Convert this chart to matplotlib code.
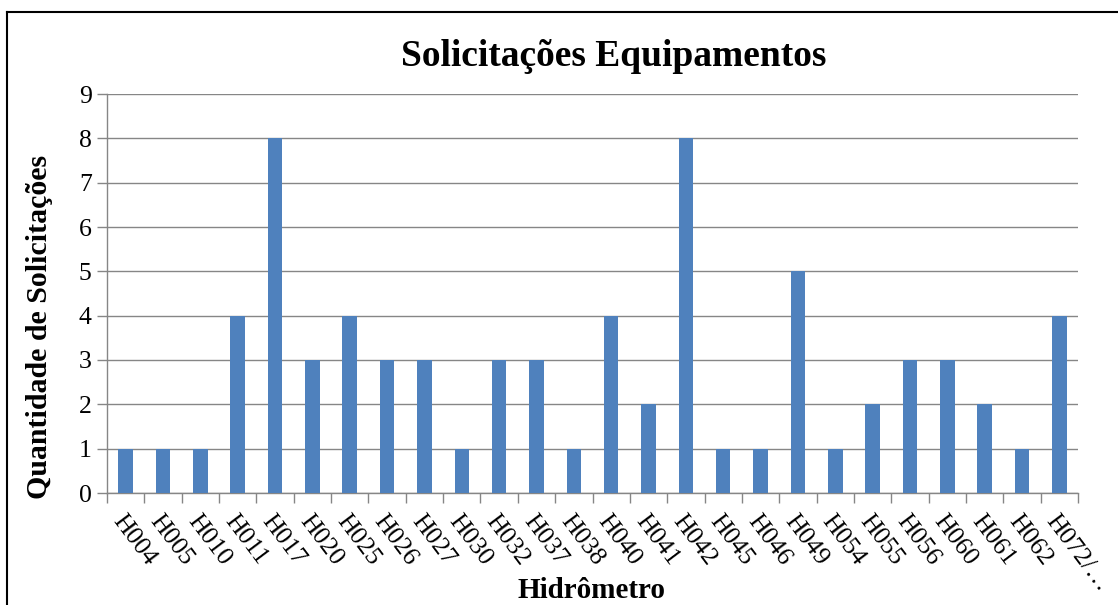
import matplotlib
matplotlib.use("Agg")
import matplotlib.pyplot as plt
from matplotlib.lines import Line2D
import numpy as np

categories = ["H004", "H005", "H010", "H011", "H017", "H020", "H025", "H026", "H027",
              "H030", "H032", "H037", "H038", "H040", "H041", "H042", "H045", "H046",
              "H049", "H054", "H055", "H056", "H060", "H061", "H062", "H072/…"]
values = [1, 1, 1, 4, 8, 3, 4, 3, 3, 1, 3, 3, 1, 4, 2, 8, 1, 1, 5, 1, 2, 3, 3, 2, 1, 4]
yticks = list(range(0, 10))

plt.rcParams['font.family'] = ['Liberation Serif', 'DejaVu Serif']

W, H = 1118, 605
fig = plt.figure(figsize=(W / 100, H / 100), dpi=100)
ax = fig.add_axes([107 / W, 1 - 493 / H, (1078 - 107) / W, (493 - 94) / H])

x = np.arange(len(categories))
ax.bar(x, values, width=0.39, color="#4F81BD", zorder=3)

grid_c = "#868686"
ax.set_xlim(-0.5, len(categories) - 0.5)
ax.set_ylim(0, 9)
ax.set_yticks(yticks)
ax.yaxis.grid(True, color=grid_c, linewidth=1, zorder=0)
for s in ["top", "right"]:
    ax.spines[s].set_visible(False)
for s in ["left", "bottom"]:
    ax.spines[s].set_color(grid_c)
    ax.spines[s].set_linewidth(1)

ax.set_xticks(x)
ax.set_xticklabels(categories, rotation=-53, ha="left", va="top", rotation_mode="anchor")
ax.set_xticks(np.arange(len(categories) + 1) - 0.5, minor=True)
ax.tick_params(axis="x", which="major", length=0, pad=13, labelsize=18.5)
ax.tick_params(axis="x", which="minor", length=7, color=grid_c, width=1)
ax.tick_params(axis="y", length=7, color=grid_c, width=1, labelsize=18.5, pad=4)

fig.text(614 / W, 1 - 56 / H, "Solicitações Equipamentos", ha="center", va="center",
         fontsize=27, fontweight="bold")
fig.text(591 / W, 1 - 591 / H, "Hidrômetro", ha="center", va="center",
         fontsize=21, fontweight="bold")
fig.text(40 / W, 1 - 327 / H, "Quantidade de Solicitações", ha="center", va="center",
         rotation=90, fontsize=21.5, fontweight="bold")

fig.add_artist(Line2D([7 / W, 7 / W], [1 - 12 / H, 0], transform=fig.transFigure,
                      color="black", linewidth=1.5))
fig.add_artist(Line2D([7 / W, 1], [1 - 12 / H, 1 - 12 / H], transform=fig.transFigure,
                      color="black", linewidth=1.5))

fig.savefig("out.png", dpi=100)
